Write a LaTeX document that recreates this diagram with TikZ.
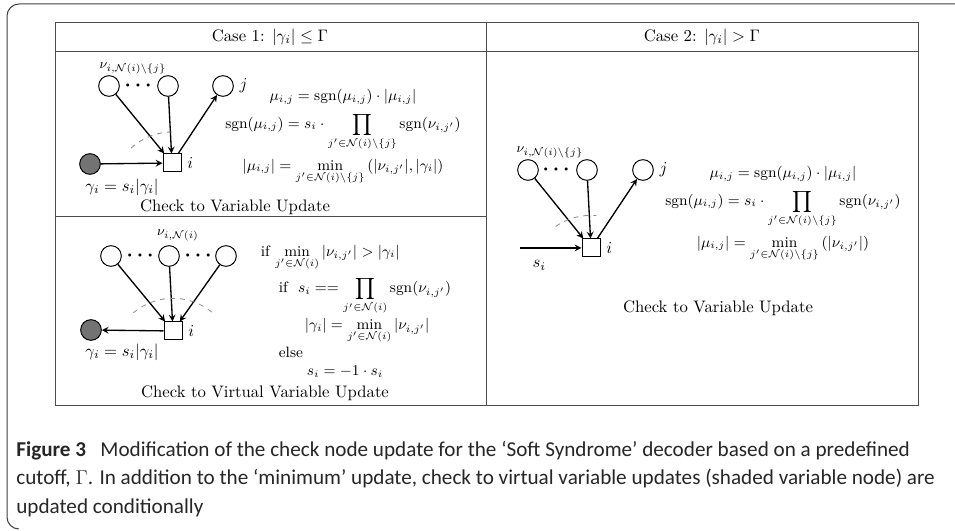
\documentclass[tikz,border=0pt]{standalone}
\usepackage{amsmath}
\usepackage{fontspec}
\newfontfamily\capfont{Carlito}
\usetikzlibrary{arrows}
\usetikzlibrary{positioning}
\tikzset{
  node distance = 0pt and 0pt,
  > = stealth,
  every edge/.style = {draw, thick},
  var/.style = {circle,
                draw,
                semithick,
                minimum size = 12.4pt,
                inner sep = 0pt},
  virtual/.style = {var,
                    fill = black!55},
  check/.style = {rectangle,
                  draw,
                  semithick,
                  minimum size = 10.8pt,
                  inner sep = 0pt},
  dots/.style = {font = \large\boldmath,
                 inner sep = 0pt},
  msg/.style = {font = \footnotesize},
  eqn/.style = {align = center,
                font = \small},
  tabline/.style = {draw = black!70,
                    line width = 0.6pt},
  sweep/.style = {dashed,
                  draw = gray!90,
                  line width = 0.5pt},
  frame/.style = {draw = black!75,
                  line width = 0.6pt},
  figcap/.style = {align = left,
                   inner sep = 0pt,
                   text = black!85,
                   font = \capfont\fontsize{12.7}{17}\selectfont}
}

\begin{document}
\begin{tikzpicture}[x = 0.6pt, y = -0.6pt]
\useasboundingbox (0,0) rectangle (955,531);

% figure frame and table
\draw[frame] (955,4) -- (19,4) to[out=180,in=90] (7,16) -- (7,517) to[out=-90,in=180] (19,529);
\draw[tabline] (55,23) rectangle (918,406);
\draw[tabline] (55,52) -- (918,52);
\draw[tabline] (486,23) -- (486,406);
\draw[tabline] (55,217) -- (486,217);

\node(head-one) at (270,37) {Case 1: $|\gamma_i| \leq \Gamma$};
\node(head-two) at (702,37) {Case 2: $|\gamma_i| > \Gamma$};

% case 1: check to variable
\node[var](v11) at (109,86) {};
\node[dots](d11) at (140,86) {$\cdots$};
\node[var](v12) at (168,86) {};
\node[var](v13) at (223,86) {};
\node(j1)[right = of v13]{$j$};
\node[msg](nu1) at (133,68) {$\nu_{i,\mathcal{N}(i)\setminus\{j\}}$};
\node[virtual](s1) at (90,164) {};
\node[check](c1) at (172,163) {}
  edge[<-](v11) edge[<-](v12) edge[->](v13) edge[<-](s1);
\node(i1)[right = of c1]{$i$};
\node(g1) at (122,187) {$\gamma_i = s_i|\gamma_i|$};
\draw[sweep] (c1) ++(0,29) ++(133:36pt) arc[start angle = 133, end angle = 88, radius = 36pt];

\node[eqn](eq1) at (343,136) {$\begin{gathered}
  \mu_{i,j} = \operatorname{sgn}(\mu_{i,j}) \cdot |\mu_{i,j}| \\
  \operatorname{sgn}(\mu_{i,j}) = s_i \cdot \prod_{j'\in\mathcal{N}(i)\setminus\{j\}} \operatorname{sgn}(\nu_{i,j'}) \\
  |\mu_{i,j}| = \min_{j'\in\mathcal{N}(i)\setminus\{j\}} \left(|\nu_{i,j'}|, |\gamma_i|\right)
  \end{gathered}$};
\node(t1) at (235,207) {Check to Variable Update};

% case 1: check to virtual variable
\node[var](v21) at (111,256) {};
\node[dots](d21) at (142,256) {$\cdots$};
\node[var](v22) at (169,256) {};
\node[dots](d22) at (200,256) {$\cdots$};
\node[var](v23) at (226,256) {};
\node[msg](nu2) at (178,235) {$\nu_{i,\mathcal{N}(i)}$};
\node[virtual](s2) at (91,330) {};
\node[check](c2) at (173,331) {}
  edge[<-](v21) edge[<-](v22) edge[<-](v23) edge[->](s2);
\node(i2)[right = of c2]{$i$};
\node(g2) at (122,352) {$\gamma_i = s_i|\gamma_i|$};
\draw[sweep] (c2) ++(0,29) ++(130:37pt) arc[start angle = 130, end angle = 50, radius = 37pt];

\node[align = left, anchor = north west, font = \small](eq2) at (255,239) {%
  if $\displaystyle\min_{j'\in\mathcal{N}(i)} |\nu_{i,j'}| > |\gamma_i|$\\[3pt]
  \hspace*{10.8pt}if\ \ $\displaystyle s_i == \prod_{j'\in\mathcal{N}(i)} \operatorname{sgn}(\nu_{i,j'})$\\[1pt]
  \hspace*{26.4pt}$\displaystyle |\gamma_i| = \min_{j'\in\mathcal{N}(i)} |\nu_{i,j'}|$\\[1pt]
  \hspace*{10.8pt}else\\
  \hspace*{27.6pt}$s_i = -1 \cdot s_i$};
\node(t2) at (265,393) {Check to Virtual Variable Update};

% case 2: check to variable
\node[var](v31) at (528,170) {};
\node[dots](d31) at (558,170) {$\cdots$};
\node[var](v32) at (587,170) {};
\node[var](v33) at (643,170) {};
\node(j3)[right = of v33]{$j$};
\node[msg](nu3) at (550,152) {$\nu_{i,\mathcal{N}(i)\setminus\{j\}}$};
\coordinate(in3) at (520,248);
\node[check](c3) at (591,248) {}
  edge[<-](v31) edge[<-](v32) edge[->](v33) edge[<-](in3);
\node(i3)[right = of c3]{$i$};
\node(si3)[below right = 4pt and 4pt of in3]{$s_i$};
\draw[sweep] (c3) ++(0,29) ++(125:37pt) arc[start angle = 125, end angle = 85, radius = 37pt];

\node[eqn](eq3) at (783,213) {$\begin{gathered}
  \mu_{i,j} = \operatorname{sgn}(\mu_{i,j}) \cdot |\mu_{i,j}| \\
  \operatorname{sgn}(\mu_{i,j}) = s_i \cdot \prod_{j'\in\mathcal{N}(i)\setminus\{j\}} \operatorname{sgn}(\nu_{i,j'}) \\
  |\mu_{i,j}| = \min_{j'\in\mathcal{N}(i)\setminus\{j\}} \left(|\nu_{i,j'}|\right)
  \end{gathered}$};
\node(t3) at (718,308) {Check to Variable Update};

% caption
\node[figcap, anchor = west](fig-cap) at (16,479) {%
  \textbf{Figure 3}\hspace{0.45em} Modification of the check node update for the ‘Soft Syndrome’ decoder based on a predefined\\
  cutoff, $\Gamma$. In addition to the ‘minimum’ update, check to virtual variable updates (shaded variable node) are\\
  updated conditionally};

\end{tikzpicture}
\end{document}
